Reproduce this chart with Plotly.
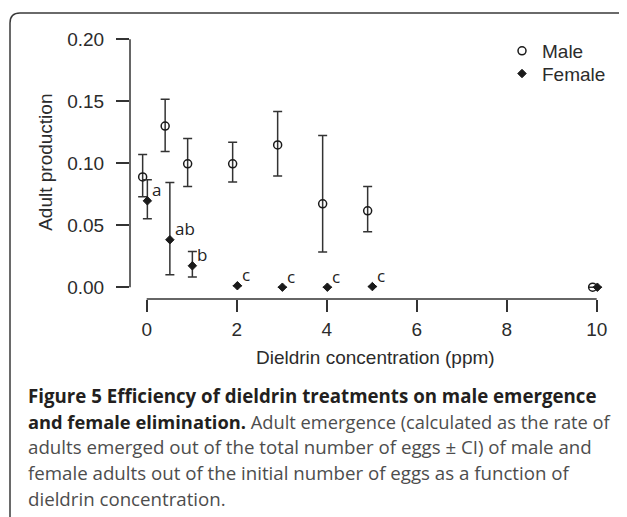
import plotly.graph_objects as go

# ---------------- data ----------------
concentration = [0, 0.5, 1, 2, 3, 4, 5, 10]

male_mean = [0.089, 0.130, 0.0995, 0.0995, 0.1148, 0.0673, 0.0616, 0.0]
male_upper = [0.107, 0.1517, 0.120, 0.117, 0.1417, 0.1223, 0.0812, None]
male_lower = [0.073, 0.1094, 0.0812, 0.0848, 0.0898, 0.0284, 0.0447, None]

female_mean = [0.0697, 0.0383, 0.0173, 0.0012, 0.0, 0.0, 0.0005, 0.0]
female_upper = [0.0866, 0.0845, 0.0289, None, None, None, None, None]
female_lower = [0.0552, 0.0101, 0.0082, None, None, None, None, None]

letters = ["a", "ab", "b", "c", "c", "c", "c", ""]

x_ticks = [0, 2, 4, 6, 8, 10]
y_ticks = [0.00, 0.05, 0.10, 0.15, 0.20]
y_tick_labels = ["0.00", "0.05", "0.10", "0.15", "0.20"]

BOLD = "<b><span style='color:#231f20'>{}</span></b>"
caption_lines = [
    BOLD.format("Figure 5 Efficiency of dieldrin treatments on male emergence"),
    BOLD.format("and female elimination.") + " Adult emergence (calculated as the rate of",
    "adults emerged out of the total number of eggs \u00b1 CI) of male and",
    "female adults out of the initial number of eggs as a function of",
    "dieldrin concentration.",
]

# ---------------- styling / layout ----------------
W, H = 627, 517
OFF = 8                      # page body margin in the browser
X_LO, X_HI = 0, 10           # extent of the drawn x axis line
Y_LO, Y_HI = 0.0, 0.2        # extent of the drawn y axis line
ML, MR, MT, MB = 122, 22, 22, 225.7
PW, PH = W - ML - MR, H - MT - MB
XPX = 45.0                   # px per x unit
YPX = 1241.0                 # px per y unit
X0_PX = 138.7 - ML           # where x = 0 sits inside the plot area
Y0_PX = 291.3 - 279.5        # where y = 0 sits above the plot bottom
x_range = [-X0_PX / XPX, (PW - X0_PX) / XPX]
y_range = [-Y0_PX / YPX, (PH - Y0_PX) / YPX]

AX = "#333333"
TXT = "#2b2b2b"
FONT = "Liberation Sans, Arial, sans-serif"
CAPFONT = "Open Sans, Lato, sans-serif"
male_dodge, female_dodge = -0.09, 0.015


def px(xp):
    """screen pixel x -> paper fraction"""
    return (xp - OFF - ML) / PW


def py(yp):
    """screen pixel y -> paper fraction"""
    return (H - MB - (yp - OFF)) / PH


def xfrac(v):
    return (v - x_range[0]) / (x_range[1] - x_range[0])


def yfrac(v):
    return (v - y_range[0]) / (y_range[1] - y_range[0])


def err(mean, up, lo):
    plus = [None if u is None else u - m for m, u in zip(mean, up)]
    minus = [None if l is None else m - l for m, l in zip(mean, lo)]
    return plus, minus


mp, mm = err(male_mean, male_upper, male_lower)
fp, fm = err(female_mean, female_upper, female_lower)

fig = go.Figure()
fig.add_trace(go.Scatter(
    x=[c + male_dodge for c in concentration], y=male_mean, mode="markers", name="Male",
    marker=dict(symbol="circle-open", size=8, color="#1a1a1a", line=dict(width=1.5, color="#1a1a1a")),
    error_y=dict(type="data", array=mp, arrayminus=mm, symmetric=False,
                 color=AX, thickness=1.5, width=4.5),
    cliponaxis=False, legend="legend",
))
fig.add_trace(go.Scatter(
    x=[c + female_dodge for c in concentration], y=female_mean, mode="markers", name="Female",
    marker=dict(symbol="diamond", size=6.5, color="#1a1a1a", line=dict(width=1, color="#1a1a1a")),
    error_y=dict(type="data", array=fp, arrayminus=fm, symmetric=False,
                 color=AX, thickness=1.5, width=4.5),
    cliponaxis=False, legend="legend2",
))

annotations = []
for c, m, lab in zip(concentration, female_mean, letters):
    if lab:
        annotations.append(dict(
            x=c + female_dodge, y=m, xref="x", yref="y", text=lab, showarrow=False,
            xanchor="left", yanchor="middle", xshift=3, yshift=11,
            font=dict(family=CAPFONT, size=17, color="#222222")))

# axis titles
annotations.append(dict(x=px(375), y=py(358), xref="paper", yref="paper",
                        text="Dieldrin concentration (ppm)", showarrow=False,
                        xanchor="center", yanchor="middle",
                        font=dict(family=FONT, size=19, color=TXT)))
annotations.append(dict(x=px(46), y=py(163), xref="paper", yref="paper",
                        text="Adult production", showarrow=False, textangle=-90,
                        xanchor="center", yanchor="middle",
                        font=dict(family=FONT, size=19, color=TXT)))

# caption
cap_y = [396, 421.7, 447, 473, 499]
cap_size = [18.7, 18.3, 18.7, 18.7, 18.7]
for line, yy, sz in zip(caption_lines, cap_y, cap_size):
    annotations.append(dict(x=px(26), y=py(yy), xref="paper", yref="paper",
                            text=line, showarrow=False, xanchor="left", yanchor="middle",
                            font=dict(family=CAPFONT, size=sz, color="#4d4d4d")))

# rounded frame around the figure panel (screen px)
L, T, R, B, r = 10, 13, 680, 580, 10
frame_path = (f"M {px(L)},{py(B)} L {px(L)},{py(T + r)} "
              f"Q {px(L)},{py(T)} {px(L + r)},{py(T)} L {px(R)},{py(T)}")

shapes = [
    dict(type="path", xref="paper", yref="paper", path=frame_path,
         line=dict(color="#3a3a3a", width=1.5)),
    # R-style axis lines spanning only the tick range
    dict(type="line", xref="paper", yref="paper",
         x0=xfrac(X_LO), x1=xfrac(X_HI), y0=0, y1=0, line=dict(color=AX, width=1.5)),
    dict(type="line", xref="paper", yref="paper",
         x0=0, x1=0, y0=yfrac(Y_LO), y1=yfrac(Y_HI), line=dict(color=AX, width=1.5)),
]

leg_common = dict(xanchor="left", yanchor="top", bgcolor="rgba(0,0,0,0)",
                  font=dict(size=19, color=TXT), itemwidth=30)

fig.update_layout(
    width=W, height=H,
    margin=dict(l=ML, r=MR, t=MT, b=MB),
    paper_bgcolor="white", plot_bgcolor="white",
    font=dict(family=FONT, size=19, color=TXT),
    xaxis=dict(range=x_range, tickvals=x_ticks, ticks="outside", ticklen=12, tickwidth=1.5,
               tickcolor=AX, showline=False, showgrid=False, zeroline=False,
               ticklabelstandoff=1, tickfont=dict(size=19, color=TXT)),
    yaxis=dict(range=y_range, tickvals=y_ticks, ticktext=y_tick_labels, ticks="outside",
               ticklen=13, tickwidth=1.5, tickcolor=AX, showline=False, showgrid=False,
               zeroline=False, ticklabelstandoff=8, tickfont=dict(size=19, color=TXT)),
    showlegend=True,
    legend=dict(x=px(502), y=py(32), **leg_common),
    legend2=dict(x=px(502), y=py(32 + 22.7), **leg_common),
    annotations=annotations,
    shapes=shapes,
)

fig.write_html("out.html")
